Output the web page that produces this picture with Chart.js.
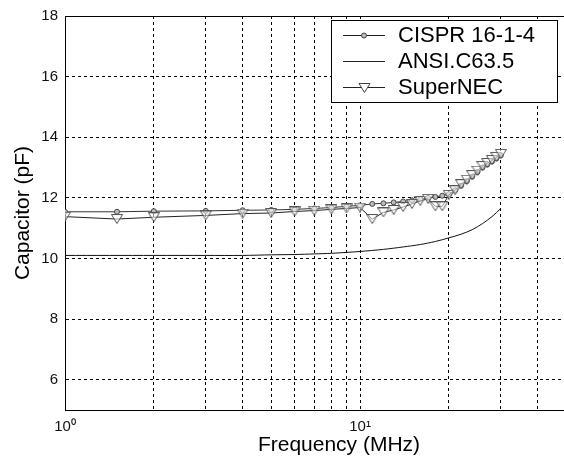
<!DOCTYPE html>
<html>
<head>
<meta charset="utf-8">
<script src="https://cdn.jsdelivr.net/npm/chart.js@4/dist/chart.umd.min.js"></script>
<style>
  html, body { margin: 0; padding: 0; background: #fff; overflow: hidden; }
  #wrap { width: 620px; height: 462px; }
</style>
</head>
<body>
<div id="wrap"><canvas id="c" width="620" height="462"></canvas></div>
<script>
// ---- data ----
const freqMarked = [1, 1.5, 2, 3, 4, 5, 6, 7, 8, 9, 10, 11, 12, 13, 14, 15, 16, 17, 18, 19, 20, 21, 22, 23, 24, 25, 26, 27, 28, 29, 30];
const cispr = [11.54, 11.54, 11.56, 11.57, 11.59, 11.6, 11.62, 11.65, 11.68, 11.72, 11.75, 11.8, 11.82, 11.85, 11.88, 11.92, 11.96, 12.0, 12.03, 12.07, 12.12, 12.25, 12.4, 12.55, 12.7, 12.85, 13.0, 13.1, 13.2, 13.3, 13.4];
const superNEC = [11.38, 11.3, 11.36, 11.42, 11.48, 11.5, 11.55, 11.58, 11.62, 11.65, 11.68, 11.3, 11.52, 11.6, 11.7, 11.8, 11.9, 11.97, 11.72, 11.72, 12.1, 12.25, 12.45, 12.6, 12.75, 12.9, 13.05, 13.15, 13.25, 13.35, 13.45];
const freqAnsi = [1, 2, 3, 4, 5, 6, 7, 8, 9, 10, 12, 14, 16, 18, 20, 22, 24, 26, 28, 30];
const ansi = [10.1, 10.1, 10.1, 10.1, 10.12, 10.13, 10.15, 10.17, 10.2, 10.23, 10.3, 10.38, 10.46, 10.56, 10.68, 10.8, 10.95, 11.15, 11.38, 11.65];
const seriesNames = ['CISPR 16-1-4', 'ANSI.C63.5', 'SuperNEC'];
const xMin = 1, xMax = 72;
const xTicks = [1, 2, 3, 4, 5, 6, 7, 8, 9, 10, 20, 30, 40, 50, 60, 70];
const xTickLabels = {1: '10\u2070', 10: '10\u00B9'};
const yTicks = [6, 8, 10, 12, 14, 16, 18];
const yMin = 5, yMax = 18;

const pts = (xs, ys) => xs.map((x, i) => ({x: x, y: ys[i]}));
const FONT = "'Liberation Sans', Arial, sans-serif";
const NARROW = "'Liberation Sans Narrow', 'Liberation Sans', Arial, sans-serif";

function downTri(ctx, x, y, w, h) {
  ctx.beginPath();
  ctx.moveTo(x - w / 2, y - h / 2);
  ctx.lineTo(x + w / 2, y - h / 2);
  ctx.lineTo(x, y + h / 2);
  ctx.closePath();
}

const triStyle = (function () {
  const c = document.createElement('canvas');
  c.width = 12; c.height = 10;
  const g = c.getContext('2d');
  g.strokeStyle = '#555'; g.lineWidth = 1;
  g.fillStyle = 'rgba(255,255,255,0.55)';
  g.beginPath(); g.moveTo(0.5, 0.5); g.lineTo(11.5, 0.5); g.lineTo(6, 9.5); g.closePath();
  g.fill(); g.stroke();
  return c;
})();

const boxLegend = {
  id: 'boxLegend',
  afterDraw(chart, args, o) {
    const ctx = chart.ctx;
    const ca = chart.chartArea;
    ctx.save();
    ctx.strokeStyle = '#000'; ctx.lineWidth = 1; ctx.setLineDash([]);
    ctx.beginPath(); ctx.moveTo(ca.left, Math.round(ca.top) + 0.5); ctx.lineTo(ca.right, Math.round(ca.top) + 0.5); ctx.stroke();
    const L = o.left, T = o.top, W = o.width, H = o.height;
    ctx.fillStyle = '#fff';
    ctx.fillRect(L, T, W, H);
    ctx.strokeStyle = '#000';
    ctx.strokeRect(L + 0.5, T + 0.5, W, H);
    ctx.font = o.fontSize + 'px ' + FONT;
    ctx.textBaseline = 'middle';
    chart.data.datasets.forEach((ds, i) => {
      const y = T + o.firstRow + i * o.rowGap;
      ctx.strokeStyle = '#222'; ctx.lineWidth = 1;
      ctx.beginPath(); ctx.moveTo(L + o.lineX0, y + 0.5); ctx.lineTo(L + o.lineX1, y + 0.5); ctx.stroke();
      const cx = L + (o.lineX0 + o.lineX1) / 2;
      if (i === 0) {
        ctx.beginPath(); ctx.arc(cx, y + 0.5, 2.5, 0, Math.PI * 2);
        ctx.fillStyle = '#bbb'; ctx.fill();
        ctx.strokeStyle = '#444'; ctx.stroke();
      } else if (i === 2) {
        downTri(ctx, cx + 0.5, y + 1, 11, 9);
        ctx.fillStyle = '#fff'; ctx.fill();
        ctx.strokeStyle = '#444'; ctx.stroke();
      }
      ctx.fillStyle = '#000';
      ctx.fillText(seriesNames[i], L + o.textX, y + 1);
    });
    ctx.restore();
  }
};

new Chart(document.getElementById('c'), {
  type: 'line',
  data: {
    datasets: [
      {
        label: seriesNames[0],
        data: pts(freqMarked, cispr),
        borderColor: '#333', borderWidth: 1,
        pointStyle: 'circle', pointRadius: 2.5,
        pointBackgroundColor: '#bbb', pointBorderColor: '#444', pointBorderWidth: 1,
        tension: 0, order: 2
      },
      {
        label: seriesNames[1],
        data: pts(freqAnsi, ansi),
        borderColor: '#111', borderWidth: 1,
        pointRadius: 0,
        tension: 0.3, order: 3
      },
      {
        label: seriesNames[2],
        data: pts(freqMarked, superNEC),
        borderColor: '#222', borderWidth: 1,
        pointStyle: triStyle, pointRadius: 6,
        tension: 0, order: 1
      }
    ]
  },
  options: {
    responsive: false,
    animation: false,
    devicePixelRatio: 1,
    layout: { padding: { left: 0, top: 12, right: 5, bottom: 0 } },
    plugins: {
      legend: { display: false },
      tooltip: { enabled: false },
      boxLegend: { left: 331, top: 20, width: 226, height: 82, firstRow: 15, rowGap: 26, lineX0: 12, lineX1: 54, textX: 67, fontSize: 22 }
    },
    scales: {
      x: {
        type: 'logarithmic',
        min: xMin, max: xMax,
        afterBuildTicks: s => { s.ticks = xTicks.map(v => ({value: v})); },
        afterFit: s => { s.height = 52; },
        ticks: {
          autoSkip: false, maxRotation: 0, color: '#111', padding: 8,
          font: { family: NARROW, size: 15 },
          callback: (v) => xTickLabels[v] || ''
        },
        grid: { color: '#000', lineWidth: 1, drawTicks: false },
        border: { color: '#000', width: 1, dash: [3, 3] },
        title: { display: true, text: 'Frequency (MHz)', color: '#000', font: { family: FONT, size: 21 }, padding: { top: 0, bottom: 4 } }
      },
      y: {
        type: 'linear',
        min: yMin, max: yMax,
        afterBuildTicks: s => { s.ticks = yTicks.map(v => ({value: v})); },
        afterFit: s => { s.width = 65; },
        ticks: { color: '#111', padding: 7, font: { family: NARROW, size: 15 } },
        grid: { color: '#000', lineWidth: 1, drawTicks: false },
        border: { color: '#000', width: 1, dash: [3, 3] },
        title: { display: true, text: 'Capacitor (pF)', color: '#000', font: { family: FONT, size: 21 }, padding: { top: 11, bottom: 0 } }
      }
    }
  },
  plugins: [boxLegend]
});
</script>
</body>
</html>
